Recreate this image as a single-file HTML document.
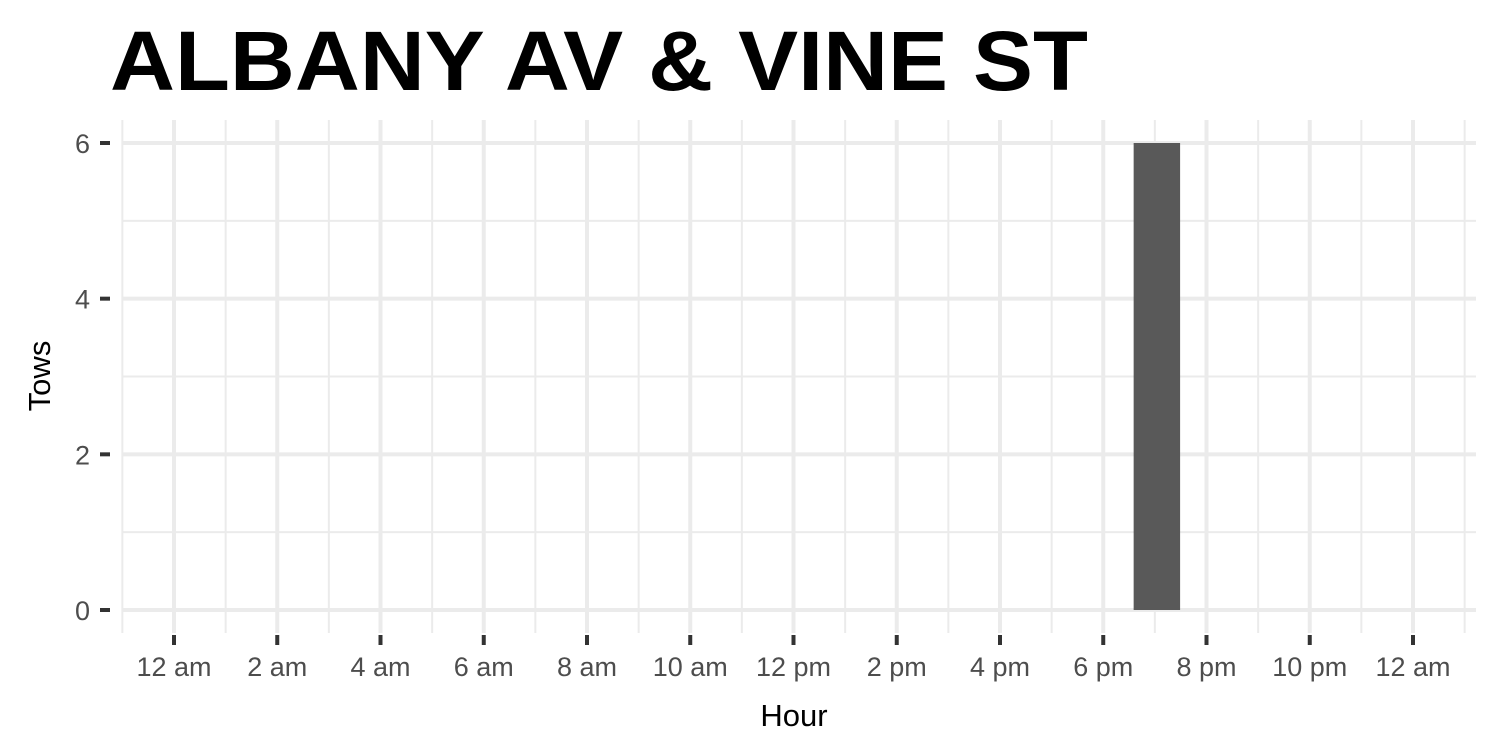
<!DOCTYPE html>
<html><head><meta charset="utf-8"><style>
html,body{margin:0;padding:0;background:#fff;}
svg{display:block;font-family:"Liberation Sans",sans-serif;}
</style></head><body>
<svg id="chart" width="1500" height="750">
<text x="110" y="90" font-size="84" font-weight="bold" fill="#000" textLength="978" lengthAdjust="spacingAndGlyphs">ALBANY AV &amp; VINE ST</text>
<g id="grid"></g><g id="bars"></g><g id="axes"></g>
<text x="794" y="726" font-size="31" text-anchor="middle" fill="#000">Hour</text>
<text transform="translate(50,376) rotate(-90)" font-size="31" text-anchor="middle" fill="#000">Tows</text>
</svg>
<script>
const hours = [0,1,2,3,4,5,6,7,8,9,10,11,12,13,14,15,16,17,18,19,20,21,22,23];
const tows  = [0,0,0,0,0,0,0,0,0,0,0,0,0,0,0,0,0,0,0,6,0,0,0,0];
const xTickHours = [0,2,4,6,8,10,12,14,16,18,20,22,24];
const xTickLabels = ["12 am","2 am","4 am","6 am","8 am","10 am","12 pm","2 pm","4 pm","6 pm","8 pm","10 pm","12 am"];
const yTicks = [0,2,4,6];
const yMinor = [1,3,5];

const NS="http://www.w3.org/2000/svg";
const x = h => 174 + h*(1413-174)/24;
const y = v => 610 - v*(610-143)/6;
const L=122, R=1476, T=120, B=633;
function mk(tag, attrs, parent){const e=document.createElementNS(NS,tag);for(const k in attrs)e.setAttribute(k,attrs[k]);parent.appendChild(e);return e;}
const grid=document.getElementById('grid'), bars=document.getElementById('bars'), axes=document.getElementById('axes');

yMinor.forEach(v=>{const e=mk('line',{x1:L,x2:R,y1:y(v),y2:y(v),stroke:'#ebebeb','stroke-width':2},grid);

});
for(let h=-1;h<=25;h+=2){const e=mk('line',{x1:x(h),x2:x(h),y1:T,y2:B,stroke:'#ebebeb','stroke-width':2},grid);

}
yTicks.forEach(v=>{const e=mk('line',{x1:L,x2:R,y1:y(v),y2:y(v),stroke:'#ebebeb','stroke-width':4},grid);

});
xTickHours.forEach(h=>{const e=mk('line',{x1:x(h),x2:x(h),y1:T,y2:B,stroke:'#ebebeb','stroke-width':4},grid);

});

const bw=(x(1)-x(0))*0.9;
hours.forEach((h,i)=>{if(tows[i]<=0)return;
const r=mk('rect',{x:x(h)-bw/2+2,y:y(tows[i]),width:bw,height:y(0)-y(tows[i]),fill:'#595959'},bars);

});

yTicks.forEach(v=>{
const t=mk('line',{x1:100,x2:110,y1:y(v),y2:y(v),stroke:'#333','stroke-width':4},axes);


const l=mk('text',{x:90,y:y(v)+10,'font-size':27,'text-anchor':'end',fill:'#4d4d4d'},axes);
l.textContent=v;

});
xTickHours.forEach((h,i)=>{
const t=mk('line',{x1:x(h),x2:x(h),y1:635,y2:645,stroke:'#333','stroke-width':4},axes);


const l=mk('text',{x:x(h),y:676,'font-size':27,'text-anchor':'middle',fill:'#4d4d4d'},axes);
l.textContent=xTickLabels[i];

});
</script>
</body></html>
